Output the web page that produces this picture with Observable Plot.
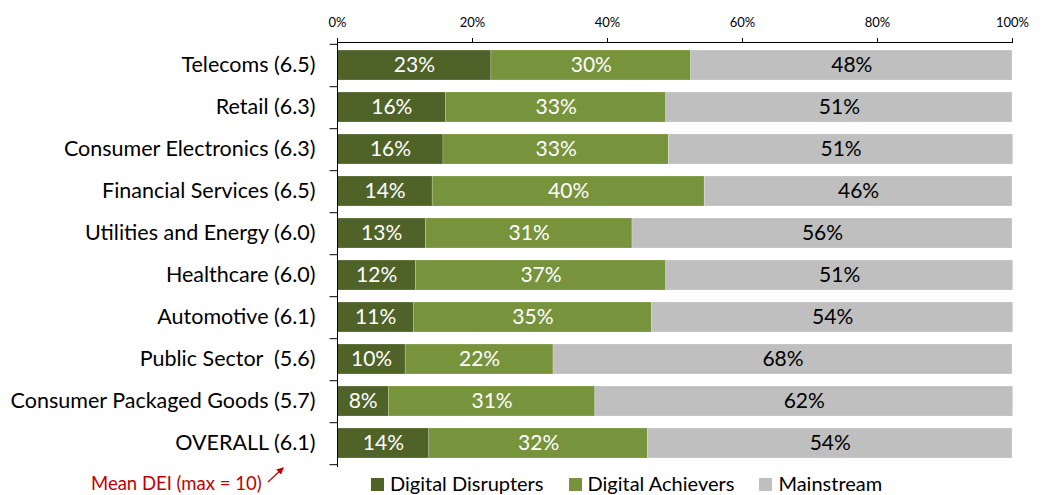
<!DOCTYPE html>
<html><head><meta charset="utf-8">
<script src="https://cdn.jsdelivr.net/npm/d3@7"></script>
<script src="https://cdn.jsdelivr.net/npm/@observablehq/plot@0.6"></script>
<style>
body{margin:0;background:#fff;font-family:Lato,"Open Sans",sans-serif;}
#wrap{position:relative;width:1044px;height:495px;overflow:hidden;}
#legend{position:absolute;top:472px;left:371px;display:flex;align-items:center;font-size:20px;color:#000;white-space:nowrap;line-height:22px;}
#legend .item{display:flex;align-items:center;margin-right:25px;}
#legend .sw{width:13px;height:13px;margin-right:6px;margin-top:3px;}
#note{position:absolute;top:473px;left:91px;font-size:18.5px;color:#C00000;white-space:nowrap;line-height:20px;}
#arrow{position:absolute;left:262px;top:460px;}
</style></head><body>
<div id="wrap"><div id="chart"></div><div id="legend"></div><div id="note">Mean DEI (max = 10)</div>
<svg id="arrow" width="30" height="30"><defs><marker id="ah" markerWidth="6" markerHeight="6" refX="5" refY="3" orient="auto"><path d="M0,0 L6,3 L0,6 z" fill="#C00000"/></marker></defs><line x1="6" y1="22" x2="21" y2="8" stroke="#C00000" stroke-width="1.2" marker-end="url(#ah)"/></svg>
</div>
<script>
const categories = ["Telecoms (6.5)","Retail (6.3)","Consumer Electronics (6.3)","Financial Services (6.5)","Utilities and Energy (6.0)","Healthcare (6.0)","Automotive (6.1)","Public Sector  (5.6)","Consumer Packaged Goods (5.7)","OVERALL (6.1)"];
const disrupters = [22.8,16.1,15.7,14.1,13.1,11.6,11.3,10.1,7.6,13.6];
const achievers  = [29.6,32.6,33.4,40.3,30.6,37.1,35.3,21.9,30.6,32.4];
const mainstream = [47.6,51.3,51.0,45.6,56.3,51.4,53.5,68.0,61.9,54.0];
const disrupterLabels = ["23%","16%","16%","14%","13%","12%","11%","10%","8%","14%"];
const achieverLabels  = ["30%","33%","33%","40%","31%","37%","35%","22%","31%","32%"];
const mainstreamLabels= ["48%","51%","51%","46%","56%","51%","54%","68%","62%","54%"];
const seriesNames = ["Digital Disrupters","Digital Achievers","Mainstream"];
const seriesColors = ["#4F6228","#77933C","#BFBFBF"];
const xTicks = [0,20,40,60,80,100];

const seriesValues = [disrupters, achievers, mainstream];
const seriesLabels = [disrupterLabels, achieverLabels, mainstreamLabels];
const data = [];
categories.forEach((c, i) => {
  seriesNames.forEach((s, j) => {
    data.push({category: c, series: s, value: seriesValues[j][i], label: seriesLabels[j][i]});
  });
});

const plot = Plot.plot({
  width: 1044,
  height: 468,
  marginTop: 42,
  marginBottom: 2,
  marginLeft: 337,
  marginRight: 32,
  style: {fontFamily: "Lato, 'Open Sans', sans-serif", color: "#000", background: "#fff"},
  x: {domain: [0, 100], label: null},
  y: {domain: categories, paddingInner: 0.29, paddingOuter: 0.145, label: null},
  color: {domain: seriesNames, range: seriesColors},
  marks: [
    Plot.barX(data, Plot.stackX({x: "value", y: "category", fill: "series", z: "series", order: seriesNames, stroke: "#fff", strokeOpacity: 0.35, strokeWidth: 0.6})),
    Plot.text(data, Plot.stackX({x: "value", y: "category", z: "series", order: seriesNames, text: d => d.series !== "Mainstream" ? d.label : "", fill: "white", fontSize: 21})),
    Plot.text(data, Plot.stackX({x: "value", y: "category", z: "series", order: seriesNames, text: d => d.series === "Mainstream" ? d.label : "", fill: "black", fontSize: 21})),
    Plot.frame({anchor: "top", stroke: "#000"}),
    Plot.frame({anchor: "left", stroke: "#000"}),
    Plot.ruleY(categories, {y: d => d, x1: -1.1, x2: 0, dy: 21.2, stroke: "#000"}),
    Plot.ruleY([categories[0]], {y: d => d, x1: -1.1, x2: 0, dy: -21.2, stroke: "#000"}),
    Plot.axisX({anchor: "top", ticks: xTicks, tickFormat: d => d + "%", tickSize: 5, tickPadding: 11, fontSize: 13, label: null}),
    Plot.axisY({anchor: "left", tickSize: 0, tickPadding: 22, fontSize: 21.5, label: null})
  ]
});
document.getElementById("chart").appendChild(plot);

const legend = document.getElementById("legend");
seriesNames.forEach((s, j) => {
  const it = document.createElement("div");
  it.className = "item";
  it.innerHTML = `<div class="sw" style="background:${seriesColors[j]}"></div><span>${s}</span>`;
  legend.appendChild(it);
});
</script>
</body></html>
